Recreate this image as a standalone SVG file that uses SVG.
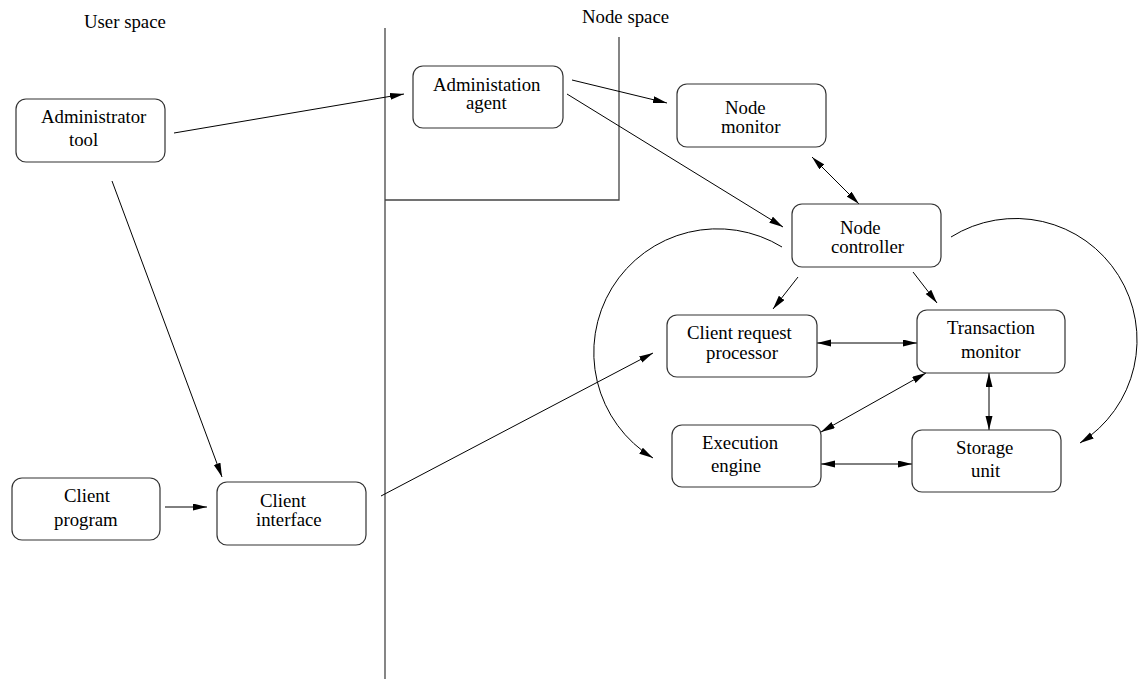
<svg xmlns="http://www.w3.org/2000/svg" width="1138" height="679" viewBox="0 0 1138 679">
<style>
.box{fill:#fff;stroke:#333;stroke-width:1.2}
.t{font-family:"Liberation Serif","Times New Roman",serif;font-size:18.8px;fill:#000}
.c{fill:none;stroke:#000;stroke-width:1}
.d{fill:none;stroke:#444;stroke-width:1.3}
</style>
<defs>
<marker id="ah" markerUnits="userSpaceOnUse" markerWidth="16" markerHeight="10" refX="14" refY="3.5" orient="auto-start-reverse">
<path d="M0,0 L14,3.5 L0,7 z" fill="#000"/>
</marker>
</defs>
<rect width="1138" height="679" fill="#fff"/>
<g id="dividers">
<path class="d" d="M385,28 V679"/>
<path class="d" d="M619,37 V200 H385"/>
<text class="t" x="84" y="28">User space</text>
<text class="t" x="582" y="23">Node space</text>
</g>
<g id="connectors">
<path class="c" d="M174,133 L404,94" marker-end="url(#ah)"/>
<path class="c" d="M572,80 L667,103" marker-end="url(#ah)"/>
<path class="c" d="M567,94 L783,227" marker-end="url(#ah)"/>
<path class="c" d="M812,157 L859,204" marker-start="url(#ah)" marker-end="url(#ah)"/>
<path class="c" d="M798,277 L773,309" marker-end="url(#ah)"/>
<path class="c" d="M913,272 L937,303" marker-end="url(#ah)"/>
<path class="c" d="M817,343 L917,343" marker-start="url(#ah)" marker-end="url(#ah)"/>
<path class="c" d="M821,432 L926,373" marker-start="url(#ah)" marker-end="url(#ah)"/>
<path class="c" d="M989,373 L989,430" marker-start="url(#ah)" marker-end="url(#ah)"/>
<path class="c" d="M821,464 L912,464" marker-start="url(#ah)" marker-end="url(#ah)"/>
<path class="c" d="M112,181 L222,477" marker-end="url(#ah)"/>
<path class="c" d="M165,507 L207,507" marker-end="url(#ah)"/>
<path class="c" d="M381,496 L653,353" marker-end="url(#ah)"/>
<path class="c" d="M782,247 A123,123 0 1 0 653,458" marker-end="url(#ah)"/>
<path class="c" d="M951,237 A119,119 0 1 1 1080,443" marker-end="url(#ah)"/>
</g>
<g id="admin-tool">
<rect class="box" x="16" y="99" width="149" height="63" rx="10"/>
<text class="t" x="41" y="123">Administrator</text>
<text class="t" x="69" y="146">tool</text>
</g>
<g id="admin-agent">
<rect class="box" x="413" y="66" width="150" height="62" rx="10"/>
<text class="t" x="433" y="90.5">Administation</text>
<text class="t" x="466" y="109">agent</text>
</g>
<g id="node-monitor">
<rect class="box" x="677" y="84" width="149" height="63" rx="10"/>
<text class="t" x="725" y="114">Node</text>
<text class="t" x="721" y="133">monitor</text>
</g>
<g id="node-controller">
<rect class="box" x="792" y="204" width="149" height="63" rx="10"/>
<text class="t" x="840" y="234">Node</text>
<text class="t" x="831" y="253">controller</text>
</g>
<g id="client-request-processor">
<rect class="box" x="667" y="315" width="150" height="62" rx="10"/>
<text class="t" x="687" y="339">Client request</text>
<text class="t" x="706" y="359">processor</text>
</g>
<g id="transaction-monitor">
<rect class="box" x="917" y="310" width="148" height="63" rx="10"/>
<text class="t" x="947" y="334">Transaction</text>
<text class="t" x="961" y="358">monitor</text>
</g>
<g id="execution-engine">
<rect class="box" x="672" y="425" width="149" height="62" rx="10"/>
<text class="t" x="702" y="449">Execution</text>
<text class="t" x="711" y="472">engine</text>
</g>
<g id="storage-unit">
<rect class="box" x="912" y="430" width="149" height="62" rx="10"/>
<text class="t" x="956" y="454">Storage</text>
<text class="t" x="971" y="477">unit</text>
</g>
<g id="client-program">
<rect class="box" x="12" y="478" width="148" height="62" rx="10"/>
<text class="t" x="64" y="502">Client</text>
<text class="t" x="54" y="526">program</text>
</g>
<g id="client-interface">
<rect class="box" x="217" y="482" width="149" height="63" rx="10"/>
<text class="t" x="260" y="507">Client</text>
<text class="t" x="256" y="526">interface</text>
</g>
</svg>
